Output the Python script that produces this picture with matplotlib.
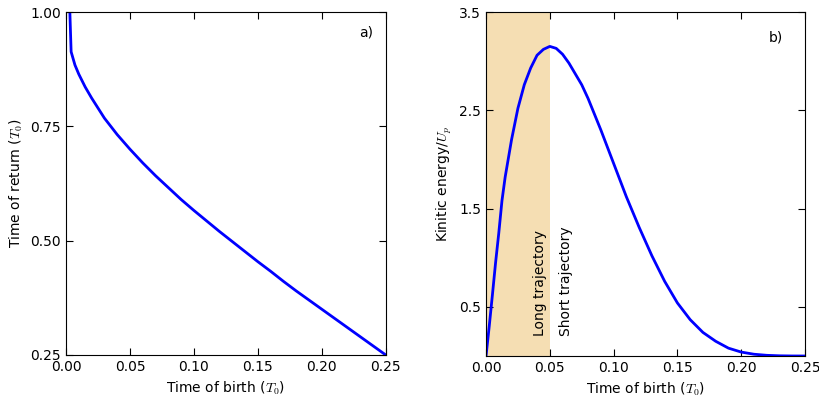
import numpy as np
import matplotlib
matplotlib.use('Agg')
import matplotlib.pyplot as plt

plt.rcParams['mathtext.fontset'] = 'cm'
plt.rcParams['font.size'] = 10
plt.rcParams['xtick.direction'] = 'in'
plt.rcParams['ytick.direction'] = 'in'
plt.rcParams['xtick.top'] = True
plt.rcParams['ytick.right'] = True
plt.rcParams['xtick.major.size'] = 5
plt.rcParams['ytick.major.size'] = 5

# a) time of return vs time of birth (units of T0)
t_birth = [0.003, 0.004, 0.007, 0.01, 0.015, 0.02, 0.03, 0.04, 0.05, 0.06,
           0.07, 0.08, 0.09, 0.10, 0.11, 0.12, 0.13, 0.14, 0.15, 0.16,
           0.17, 0.18, 0.19, 0.20, 0.21, 0.22, 0.23, 0.24, 0.25]
t_return = [1.0, 0.913, 0.884, 0.864, 0.836, 0.812, 0.768, 0.732, 0.700, 0.670,
            0.642, 0.616, 0.590, 0.566, 0.543, 0.520, 0.498, 0.476, 0.454, 0.433,
            0.411, 0.390, 0.370, 0.350, 0.330, 0.310, 0.290, 0.270, 0.250]

# b) kinetic energy / Up vs time of birth
t_birth_e = [0.0, 0.0025, 0.005, 0.0075, 0.01, 0.0125, 0.015, 0.02, 0.025, 0.03,
             0.035, 0.04, 0.045, 0.05, 0.055, 0.06, 0.065, 0.07, 0.075, 0.08,
             0.09, 0.10, 0.11, 0.12, 0.13, 0.14, 0.15, 0.16, 0.17, 0.18,
             0.19, 0.20, 0.21, 0.22, 0.23, 0.24, 0.25]
energy = [0.0, 0.30, 0.62, 0.95, 1.25, 1.58, 1.82, 2.20, 2.52, 2.76,
          2.93, 3.06, 3.12, 3.15, 3.13, 3.07, 2.98, 2.87, 2.76, 2.62,
          2.30, 1.96, 1.62, 1.31, 1.02, 0.76, 0.54, 0.37, 0.24, 0.15,
          0.08, 0.04, 0.018, 0.007, 0.002, 0.0003, 0.0]

long_span = [0.0, 0.05]

fig = plt.figure(figsize=(8.2, 4.0), dpi=100)

ax1 = fig.add_axes([0.0805, 0.1125, 0.390, 0.8575])
ax1.plot(t_birth, t_return, color='b', linewidth=2)
ax1.set_xlim(0, 0.25)
ax1.set_ylim(0.25, 1.0)
ax1.set_xticks([0.0, 0.05, 0.10, 0.15, 0.20, 0.25])
ax1.set_yticks([0.25, 0.50, 0.75, 1.00])
ax1.xaxis.set_major_formatter(matplotlib.ticker.FormatStrFormatter('%.2f'))
ax1.yaxis.set_major_formatter(matplotlib.ticker.FormatStrFormatter('%.2f'))
ax1.set_xlabel('Time of birth ($T_0$)')
ax1.set_ylabel('Time of return ($T_0$)')
ax1.text(0.94, 0.94, 'a)', transform=ax1.transAxes, ha='center', va='center')

ax2 = fig.add_axes([0.5927, 0.11, 0.389, 0.86])
ax2.axvspan(long_span[0], long_span[1], color='wheat', linewidth=0)
ax2.plot(t_birth_e, energy, color='b', linewidth=2)
ax2.set_xlim(0, 0.25)
ax2.set_ylim(0, 3.5)
ax2.set_xticks([0.0, 0.05, 0.10, 0.15, 0.20, 0.25])
ax2.set_yticks([0.5, 1.5, 2.5, 3.5])
ax2.xaxis.set_major_formatter(matplotlib.ticker.FormatStrFormatter('%.2f'))
ax2.set_xlabel('Time of birth ($T_0$)')
ax2.set_ylabel('Kinitic energy/$U_p$')
ax2.text(0.91, 0.925, 'b)', transform=ax2.transAxes, ha='center', va='center')
ax2.text(0.0423, 0.2, 'Long trajectory', rotation=90, ha='center', va='bottom')
ax2.text(0.0625, 0.2, 'Short trajectory', rotation=90, ha='center', va='bottom')

fig.savefig('out.png', dpi=100)
